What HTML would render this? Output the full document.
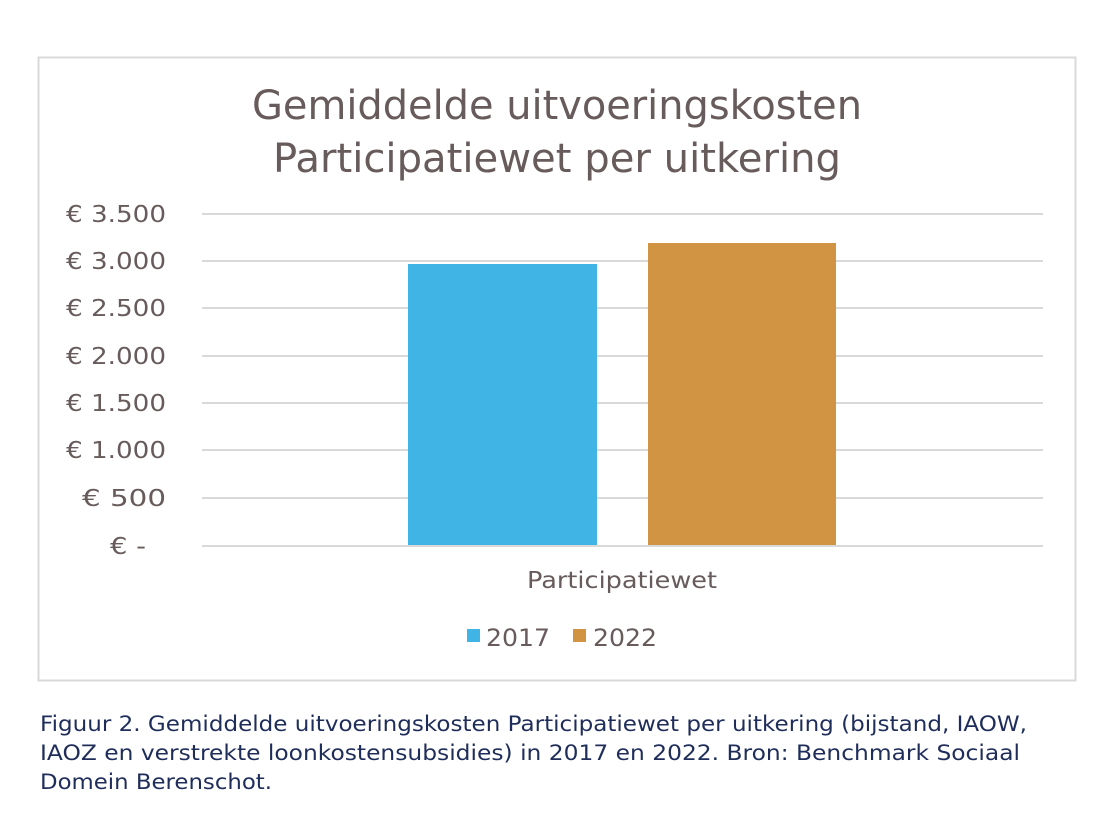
<!DOCTYPE html>
<html><head><meta charset="utf-8"><style>
html,body{margin:0;padding:0;background:#fff;}
svg{display:block;}
text{font-family:"DejaVu Sans","Liberation Sans",sans-serif;}
</style></head><body>
<svg width="1110" height="833" viewBox="0 0 1110 833" xmlns="http://www.w3.org/2000/svg">
<rect x="38.5" y="57.5" width="1037" height="623" fill="#fff" stroke="#d9d9d9" stroke-width="2"/>
<g fill="#675b5b" style="font-family:'Liberation Sans',sans-serif" font-size="40" text-anchor="middle">
<text x="557" y="119" textLength="610" lengthAdjust="spacingAndGlyphs">Gemiddelde uitvoeringskosten</text>
<text x="557" y="172" textLength="568" lengthAdjust="spacingAndGlyphs">Participatiewet per uitkering</text>
</g>
<g stroke="#d9d9d9" stroke-width="2">
<line x1="202" x2="1043" y1="214" y2="214"/>
<line x1="202" x2="1043" y1="261" y2="261"/>
<line x1="202" x2="1043" y1="308" y2="308"/>
<line x1="202" x2="1043" y1="356" y2="356"/>
<line x1="202" x2="1043" y1="403" y2="403"/>
<line x1="202" x2="1043" y1="450" y2="450"/>
<line x1="202" x2="1043" y1="498" y2="498"/>
<line x1="202" x2="1043" y1="546" y2="546"/>
</g>
<rect x="408" y="264" width="189" height="281" fill="#41b4e6"/>
<rect x="648" y="243" width="188" height="302" fill="#d19443"/>
<g fill="#675b5b" font-size="23" text-anchor="end">
<text x="166" y="222" textLength="100" lengthAdjust="spacingAndGlyphs">€ 3.500</text>
<text x="166" y="269" textLength="100" lengthAdjust="spacingAndGlyphs">€ 3.000</text>
<text x="166" y="316" textLength="100" lengthAdjust="spacingAndGlyphs">€ 2.500</text>
<text x="166" y="364" textLength="100" lengthAdjust="spacingAndGlyphs">€ 2.000</text>
<text x="166" y="411" textLength="100" lengthAdjust="spacingAndGlyphs">€ 1.500</text>
<text x="166" y="458" textLength="100" lengthAdjust="spacingAndGlyphs">€ 1.000</text>
<text x="166" y="506" textLength="84" lengthAdjust="spacingAndGlyphs">€ 500</text>
<text x="146" y="554" textLength="36" lengthAdjust="spacingAndGlyphs">€ -</text>
</g>
<text x="622" y="588" fill="#675b5b" font-size="23" text-anchor="middle" textLength="190" lengthAdjust="spacingAndGlyphs">Participatiewet</text>
<rect x="467" y="629" width="13" height="13" fill="#41b4e6"/>
<text x="486" y="646" fill="#675b5b" font-size="24" textLength="64" lengthAdjust="spacingAndGlyphs">2017</text>
<rect x="573" y="629" width="13" height="13" fill="#d19443"/>
<text x="593" y="646" fill="#675b5b" font-size="24" textLength="64" lengthAdjust="spacingAndGlyphs">2022</text>
<g fill="#1f2d5a" font-size="21.5">
<text x="40" y="731" textLength="987" lengthAdjust="spacingAndGlyphs">Figuur 2. Gemiddelde uitvoeringskosten Participatiewet per uitkering (bijstand, IAOW,</text>
<text x="40" y="760" textLength="980" lengthAdjust="spacingAndGlyphs">IAOZ en verstrekte loonkostensubsidies) in 2017 en 2022. Bron: Benchmark Sociaal</text>
<text x="40" y="789" textLength="232" lengthAdjust="spacingAndGlyphs">Domein Berenschot.</text>
</g>
</svg>
</body></html>
